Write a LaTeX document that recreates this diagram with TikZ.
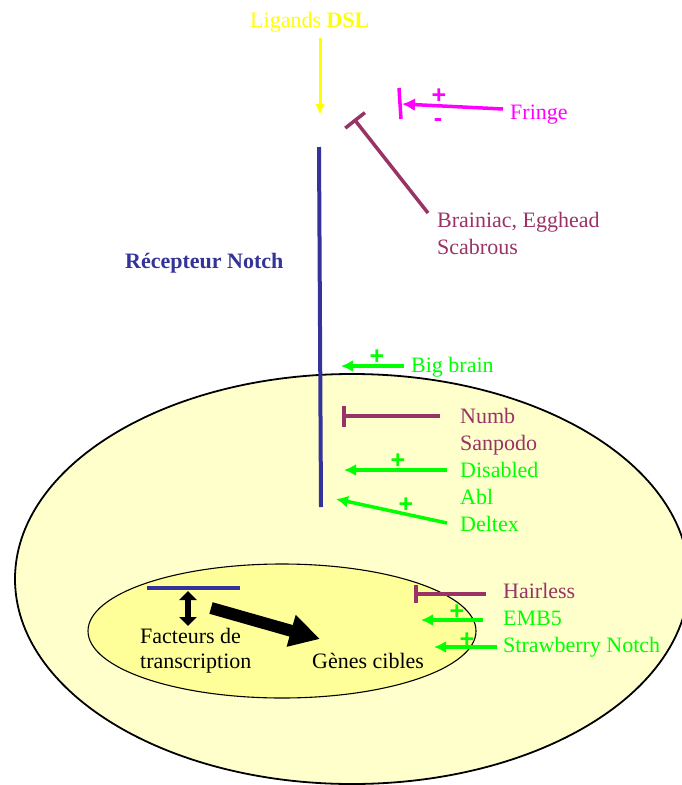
\documentclass[tikz,border=0pt]{standalone}
\usepackage{fontspec}
\setmainfont{Liberation Serif}
\setsansfont{Liberation Sans}
\usetikzlibrary{arrows.meta}
\definecolor{notchblue}{HTML}{333399}
\definecolor{inhib}{HTML}{993366}
\definecolor{act}{HTML}{00FF00}
\definecolor{fringecol}{HTML}{FF00FF}
\definecolor{dslcol}{HTML}{FFFF00}
\definecolor{cellfill}{HTML}{FFFFCC}
\definecolor{nucfill}{HTML}{FFFF99}
\begin{document}
\begin{tikzpicture}[x=1pt,y=-1pt,
  lbl/.style={anchor=base west, inner sep=0pt, font=\fontsize{22}{26}\selectfont},
  actarrow/.style={act, line width=3.5pt, -{Latex[length=12pt,width=12pt]}},
  inhibarrow/.style={inhib, line width=3.5pt, -{Bar[width=21pt]}},
  sign/.style={font=\sffamily\bfseries\fontsize{25}{25}\selectfont, inner sep=0pt}]
\useasboundingbox (0,0) rectangle (681,785);

% cell and nucleus
\draw[fill=cellfill, line width=1.8pt] (352,579) ellipse [x radius=337, y radius=205];
\draw[fill=nucfill, line width=1.1pt] (282,631) ellipse [x radius=194, y radius=67];

% Notch receptor
\coordinate (rtop) at (319,147);
\coordinate (rbot) at (321,507);
\draw[notchblue, line width=4pt] (rtop) -- (rbot);
\node[lbl, notchblue, font=\fontsize{22}{26}\selectfont\bfseries] (recept) at (125,268) {Récepteur Notch};

% DSL ligands
\node[lbl, dslcol] (ligands) at (250,27) {Ligands \textbf{DSL}};
\coordinate (dslS) at (320,38);
\coordinate (dslE) at (320,115);
\draw[dslcol, line width=3pt, -{Latex[length=11pt,width=10pt]}] (dslS) -- (dslE);

% Fringe
\node[lbl, fringecol] (fringe) at (510,119) {Fringe};
\coordinate (frS) at (503,109);
\coordinate (frE) at (402,104);
\coordinate (frB1) at (399,88);
\coordinate (frB2) at (401,119);
\draw[fringecol, line width=3.5pt, -{Latex[length=13pt,width=13pt]}] (frS) -- (frE);
\draw[fringecol, line width=3.5pt] (frB1) -- (frB2);
\node[sign, fringecol] (frplus) at (439,96) {+};
\node[sign, fringecol] (frminus) at (438,123) {-};

% Brainiac, Egghead, Scabrous
\node[lbl, inhib] (brainiac) at (437,227) {Brainiac, Egghead};
\node[lbl, inhib] (scabrous) at (437,254) {Scabrous};
\coordinate (brS) at (428,213);
\coordinate (brE) at (354,119);
\draw[inhibarrow, -{Bar[width=25pt]}] (brS) -- (brE);

% Big brain
\node[lbl, act] (bigbrain) at (411,372) {Big brain};
\coordinate (bbS) at (404,366);
\coordinate (bbE) at (341,366);
\draw[actarrow] (bbS) -- (bbE);
\node[sign, act] (bbplus) at (377,357) {+};

% membrane-side regulators
\node[lbl, inhib] (numb) at (460,423) {Numb};
\node[lbl, inhib] (sanpodo) at (460,450) {Sanpodo};
\node[lbl, act] (disabled) at (460,477) {Disabled};
\node[lbl, act] (abl) at (460,504) {Abl};
\node[lbl, act] (deltex) at (460,531) {Deltex};
\coordinate (nbS) at (440,416);
\coordinate (nbE) at (342,416);
\draw[inhibarrow] (nbS) -- (nbE);
\coordinate (dbS) at (447,470);
\coordinate (dbE) at (344,470);
\draw[actarrow] (dbS) -- (dbE);
\node[sign, act] (dbplus) at (398,461) {+};
\coordinate (dxS) at (447,523);
\coordinate (dxE) at (336,499);
\draw[actarrow] (dxS) -- (dxE);
\node[sign, act] (dxplus) at (406,505) {+};

% nuclear regulators
\node[lbl, inhib] (hairless) at (503,598) {Hairless};
\node[lbl, act] (emb) at (503,625) {EMB5};
\node[lbl, act] (sno) at (503,652) {Strawberry Notch};
\coordinate (hlS) at (486,594);
\coordinate (hlE) at (414,594);
\draw[inhibarrow, -{Bar[width=18pt]}] (hlS) -- (hlE);
\coordinate (emS) at (483,620);
\coordinate (emE) at (421,620);
\draw[actarrow] (emS) -- (emE);
\node[sign, act] (emplus) at (457,612) {+};
\coordinate (snS) at (497,647);
\coordinate (snE) at (434,647);
\draw[actarrow] (snS) -- (snE);
\node[sign, act] (snplus) at (467,640) {+};

% inside the nucleus
\coordinate (icdL) at (147,588);
\coordinate (icdR) at (240,588);
\draw[notchblue, line width=4pt] (icdL) -- (icdR);
\coordinate (tfT) at (188,591);
\coordinate (tfB) at (188,626);
\draw[black, line width=6pt, {Triangle[length=9pt,width=17pt]}-{Triangle[length=9pt,width=17pt]}] (tfT) -- (tfB);
\coordinate (gS) at (211,608);
\coordinate (gE) at (320,639);
\draw[black, line width=12pt, -{Triangle[length=30pt,width=31pt]}] (gS) -- (gE);
\node[lbl] (facteurs) at (140,643) {Facteurs de};
\node[lbl] (transcr) at (140,668) {transcription};
\node[lbl] (genes) at (312,668) {Gènes cibles};
\end{tikzpicture}
\end{document}
